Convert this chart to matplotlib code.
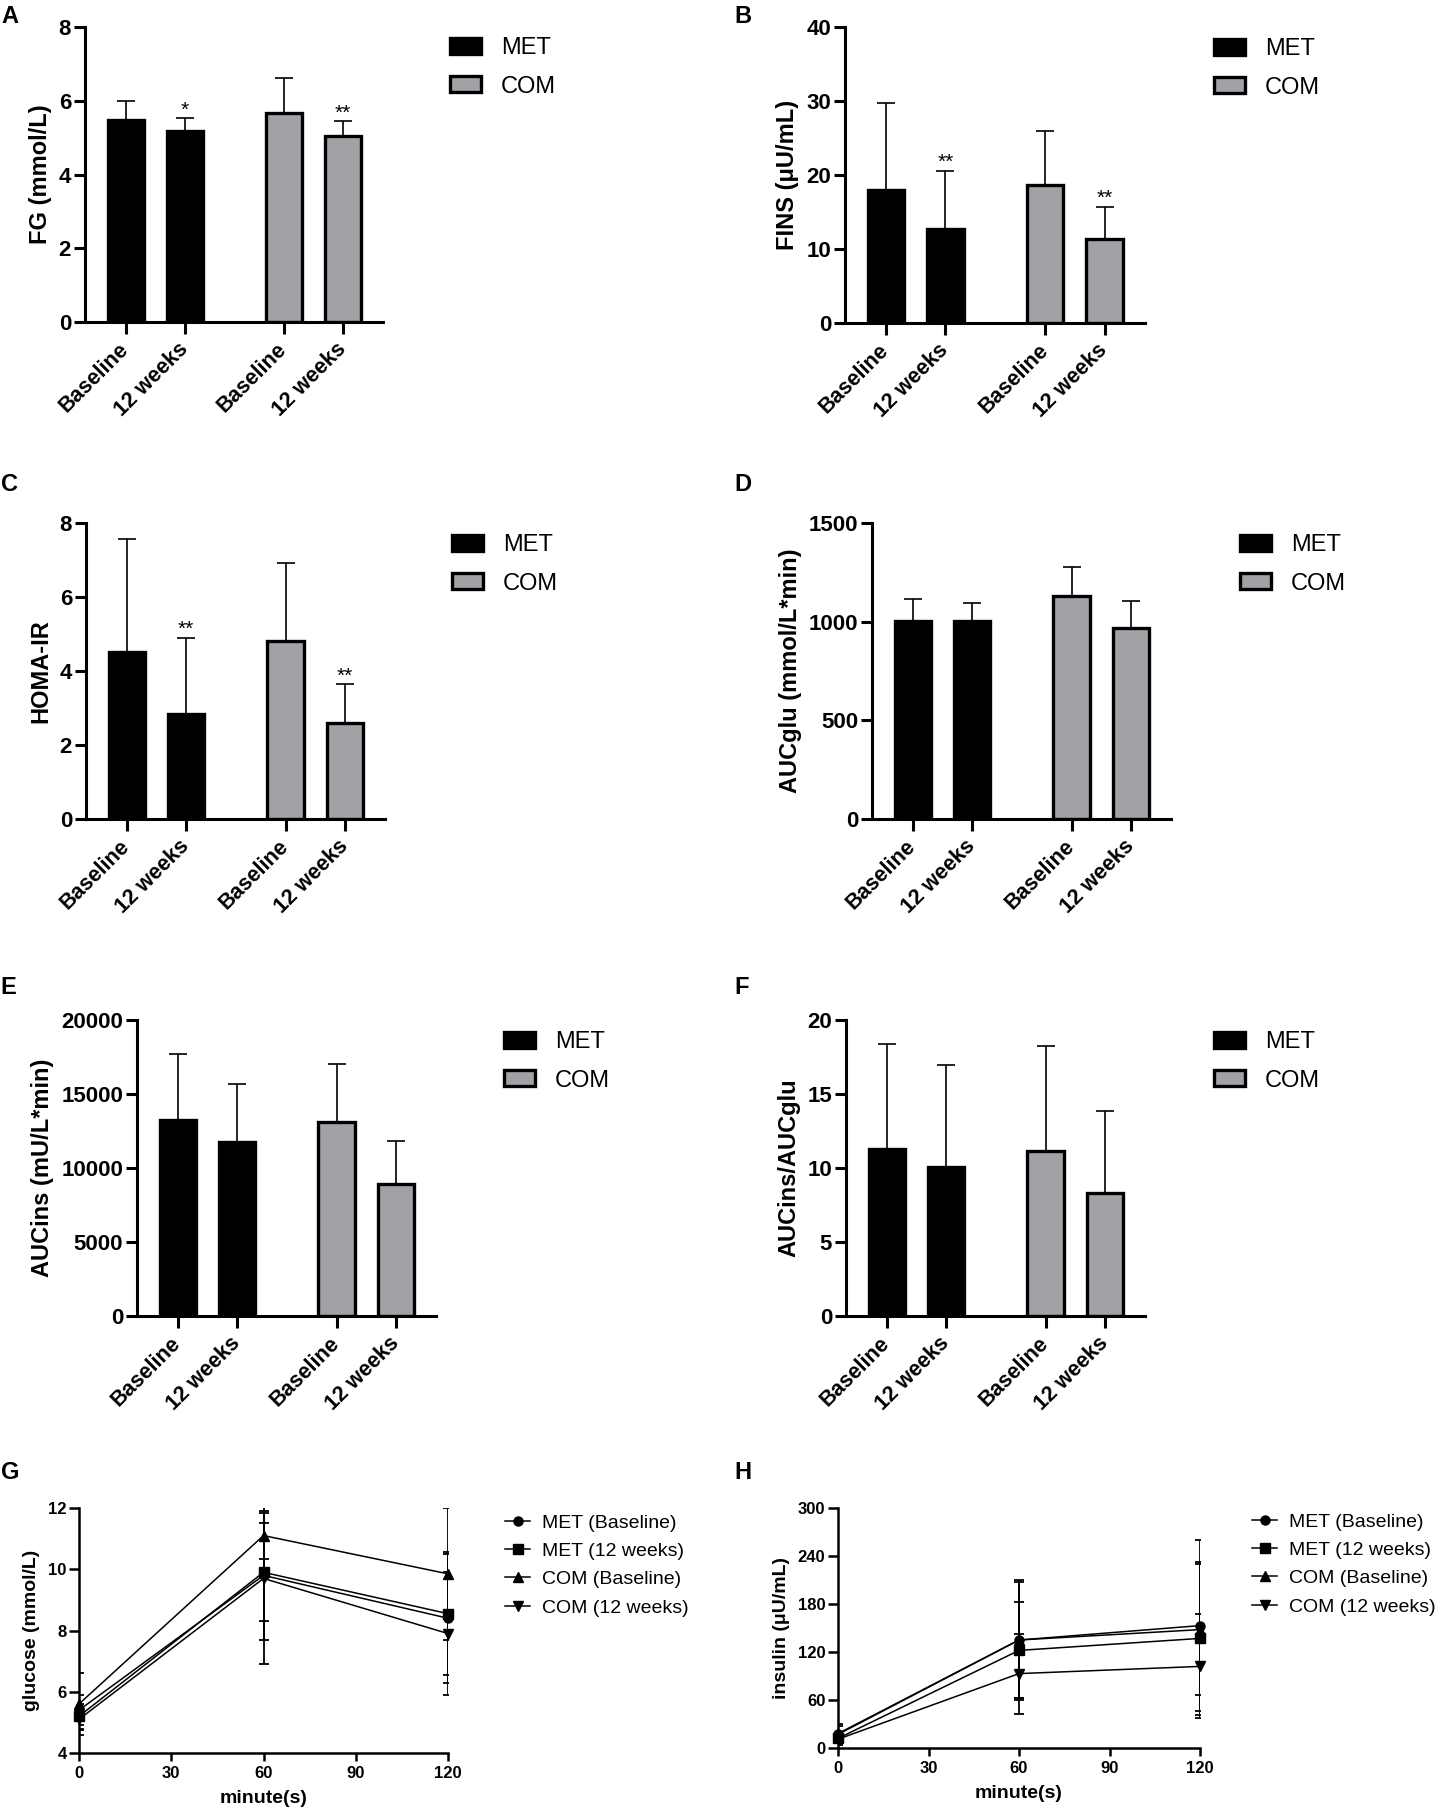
import numpy as np
import matplotlib
matplotlib.use('Agg')
import matplotlib.pyplot as plt

# ---------------- data ----------------
groups = ['MET', 'COM']
bar_labels = ['Baseline', '12 weeks', 'Baseline', '12 weeks']

fg_mean = [5.47, 5.18, 5.68, 5.04]
fg_sd = [0.53, 0.34, 0.95, 0.40]
fg_star = ['', '*', '', '**']

fins_mean = [18.0, 12.75, 18.7, 11.4]
fins_sd = [11.7, 7.85, 7.2, 4.3]
fins_star = ['', '**', '', '**']

homa_mean = [4.50, 2.84, 4.82, 2.59]
homa_sd = [3.08, 2.06, 2.10, 1.06]
homa_star = ['', '**', '', '**']

aucglu_mean = [1002, 1002, 1128, 968]
aucglu_sd = [113, 93, 147, 138]

aucins_mean = [13240, 11730, 13110, 8900]
aucins_sd = [4460, 3920, 3900, 2930]

ratio_mean = [11.26, 10.07, 11.15, 8.33]
ratio_sd = [7.14, 6.87, 7.12, 5.52]

times = [0, 60, 120]
curve_labels = ['MET (Baseline)', 'MET (12 weeks)', 'COM (Baseline)', 'COM (12 weeks)']
glu_mean = [[5.4, 9.8, 8.4],
            [5.2, 9.9, 8.55],
            [5.6, 11.1, 9.85],
            [5.1, 9.7, 7.9]]
glu_sd = [[0.5, 2.1, 2.1],
          [0.4, 1.6, 2.0],
          [1.0, 0.75, 2.15],
          [0.35, 2.8, 2.0]]
ins_mean = [[18, 135, 153],
            [12, 122, 137],
            [17, 135, 148],
            [11, 93, 102]]
ins_sd = [[12, 75, 107],
          [8, 60, 96],
          [10, 73, 82],
          [7, 50, 65]]

# ---------------- style ----------------
W, H = 1438, 1817
ARIAL = ['Liberation Sans', 'DejaVu Sans']
grey = '#a2a2a6'
positions = [0, 1, 2.68, 3.68]
bar_colors = ['black', 'black', grey, grey]
markers = ['o', 's', '^', 'v']

fig = plt.figure(figsize=(W / 100, H / 100), dpi=100)


def rect(l, t, r, b):
    return [l / W, 1 - b / H, (r - l) / W, (b - t) / H]


def bar_panel(box, means, sds, ymax, yticks, ylabel, legend_xy, stars=None):
    ax = fig.add_axes(rect(*box))
    bars = ax.bar(positions, means, width=0.61, color=bar_colors,
                  edgecolor='black', linewidth=2.4, zorder=2)
    ax.errorbar(positions, means, yerr=[np.zeros(4), sds], fmt='none',
                ecolor='black', elinewidth=1.2, capsize=6.5, capthick=1.2, zorder=1)
    if stars:
        for p, m, s, st in zip(positions, means, sds, stars):
            if st:
                ax.annotate(st, (p, m + s), xytext=(0, -1), textcoords='offset points',
                            ha='center', va='bottom', fontsize=15, family=ARIAL)
    ax.set_xlim(-0.69, 4.36)
    ax.set_ylim(0, ymax)
    ax.set_yticks(yticks)
    ax.set_yticklabels([str(t) for t in yticks], fontsize=16, fontweight='bold', family=ARIAL)
    ax.set_xticks(positions)
    ax.set_xticklabels(bar_labels, rotation=45, ha='right', va='center',
                       rotation_mode='anchor', fontsize=15.5, fontweight='bold', family=ARIAL)
    for sp in ['top', 'right']:
        ax.spines[sp].set_visible(False)
    for sp in ['left', 'bottom']:
        ax.spines[sp].set_linewidth(2.2)
    ax.tick_params(axis='y', direction='out', length=8, width=2.2, pad=2)
    ax.tick_params(axis='x', direction='out', length=8.5, width=2.2, pad=9)
    ax.set_ylabel(ylabel, fontsize=17, fontweight='bold', family=ARIAL, labelpad=5)
    ax.legend([bars[0], bars[2]], groups, loc='upper left', frameon=False,
              bbox_to_anchor=(legend_xy[0] / W, 1 - legend_xy[1] / H),
              bbox_transform=fig.transFigure, borderpad=0, borderaxespad=0,
              handlelength=1.3, handleheight=0.68, handletextpad=0.85,
              labelspacing=0.7, prop={'family': ARIAL, 'size': 17})
    return ax


def line_panel(box, means, sds, ylim, yticks, ylabel, legend_xy):
    ax = fig.add_axes(rect(*box))
    handles = []
    for m, s, mk in zip(means, sds, markers):
        c = ax.errorbar(times, m, yerr=s, color='black', lw=1.1, marker=mk, ms=6.5,
                        capsize=3.3, elinewidth=1.3, capthick=1.3)
        c.lines[0].set_clip_on(False)
        handles.append(c.lines[0])
    ax.set_xlim(0, 120)
    ax.set_ylim(*ylim)
    ax.set_xticks([0, 30, 60, 90, 120])
    ax.set_xticklabels(['0', '30', '60', '90', '120'], fontsize=12, fontweight='bold', family=ARIAL)
    ax.set_yticks(yticks)
    ax.set_yticklabels([str(t) for t in yticks], fontsize=12, fontweight='bold', family=ARIAL)
    for sp in ['top', 'right']:
        ax.spines[sp].set_visible(False)
    for sp in ['left', 'bottom']:
        ax.spines[sp].set_linewidth(1.8)
    ax.tick_params(direction='out', length=7, width=1.8, pad=2)
    ax.tick_params(axis='x', length=5.5, pad=4)
    ax.set_ylabel(ylabel, fontsize=14, fontweight='bold', family=ARIAL, labelpad=6)
    ax.set_xlabel('minute(s)', fontsize=14, fontweight='bold', family=ARIAL, labelpad=6)
    ax.legend(handles, curve_labels, loc='upper left', frameon=False, numpoints=1,
              bbox_to_anchor=(legend_xy[0] / W, 1 - legend_xy[1] / H),
              bbox_transform=fig.transFigure, borderpad=0, borderaxespad=0,
              handlelength=1.3, handletextpad=0.6, labelspacing=0.55,
              prop={'family': ARIAL, 'size': 14})
    return ax


bar_panel((85, 27, 383, 322), fg_mean, fg_sd, 8, [0, 2, 4, 6, 8],
          'FG (mmol/L)', (450, 37), fg_star)
bar_panel((845, 27, 1145, 323), fins_mean, fins_sd, 40, [0, 10, 20, 30, 40],
          'FINS (μU/mL)', (1214, 38), fins_star)
bar_panel((86, 523, 385, 819), homa_mean, homa_sd, 8, [0, 2, 4, 6, 8],
          'HOMA-IR', (452, 534), homa_star)
bar_panel((872, 523, 1171, 819), aucglu_mean, aucglu_sd, 1500, [0, 500, 1000, 1500],
          'AUCglu (mmol/L*min)', (1240, 534))
bar_panel((137, 1020, 436, 1316), aucins_mean, aucins_sd, 20000, [0, 5000, 10000, 15000, 20000],
          'AUCins (mU/L*min)', (504, 1031))
bar_panel((846, 1020, 1145, 1316), ratio_mean, ratio_sd, 20, [0, 5, 10, 15, 20],
          'AUCins/AUCglu', (1214, 1031))
line_panel((79, 1508, 448, 1753), glu_mean, glu_sd, (4, 12), [4, 6, 8, 10, 12],
           'glucose (mmol/L)', (505, 1514))
line_panel((838, 1508, 1200, 1748), ins_mean, ins_sd, (0, 300), [0, 60, 120, 180, 240, 300],
           'insulin (μU/mL)', (1252, 1513))

# panel letters
letters = ['A', 'B', 'C', 'D', 'E', 'F', 'G', 'H']
letter_xy = [(1, 5), (734, 5), (1, 473), (734, 473), (0, 976), (734, 976), (1, 1461), (734, 1461)]
for let, (x, y) in zip(letters, letter_xy):
    fig.text(x / W, 1 - y / H, let, fontsize=17, fontweight='bold', family=ARIAL,
             ha='left', va='top')

fig.savefig('out.png', dpi=100)
